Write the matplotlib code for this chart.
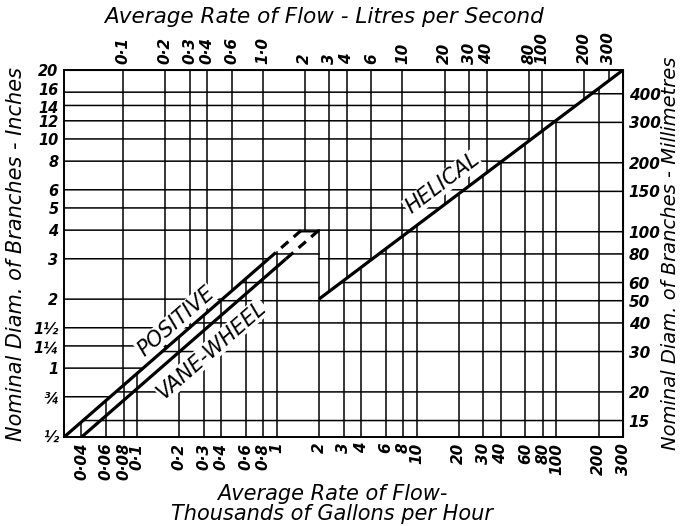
import numpy as np
import matplotlib.pyplot as plt
from matplotlib.ticker import NullLocator
from matplotlib.transforms import ScaledTranslation

plt.rcParams['font.family'] = ['DejaVu Sans']
plt.rcParams['font.style'] = 'italic'

# flow scale: thousands of gallons per hour (bottom), litres per second (top)
flow_ticks = [0.04, 0.06, 0.08, 0.1, 0.2, 0.3, 0.4, 0.6, 0.8, 1, 2, 3, 4, 6, 8, 10,
              20, 30, 40, 60, 80, 100, 200, 300]
flow_labels = ['0·04', '0·06', '0·08', '0·1', '0·2', '0·3', '0·4', '0·6', '0·8', '1',
               '2', '3', '4', '6', '8', '10', '20', '30', '40', '60', '80', '100', '200', '300']
lps_ticks = [0.1, 0.2, 0.3, 0.4, 0.6, 1.0, 2, 3, 4, 6, 10, 20, 30, 40, 80, 100, 200, 300]
lps_labels = ['0·1', '0·2', '0·3', '0·4', '0·6', '1·0', '2', '3', '4', '6', '10',
              '20', '30', '40', '80', '100', '200', '300']

# branch sizes: inches (left), millimetres (right)
inch_ticks = [0.5, 0.75, 1, 1.25, 1.5, 2, 3, 4, 5, 6, 8, 10, 12, 14, 16, 20]
inch_labels = ['½', '¾', '1', '1¼', '1½', '2', '3', '4', '5', '6', '8', '10', '12', '14', '16', '20']
mm_ticks = [15, 20, 30, 40, 50, 60, 80, 100, 150, 200, 300, 400]

# meter types: flow (1000 gal/h) against branch size (in)
positive_flow = [0.03, 1.5]
positive_diam = [0.5, 4]
vane_flow = [0.04, 2]
vane_diam = [0.5, 4]
helical_flow = [2, 300]
helical_diam = [2, 20]
dashed_above = 3   # sizes above this are dashed

LPS_PER_KGPH = 4.54609 / 3.6
MM_PER_IN = 25.4
xmin, xmax = 0.03, 300
ymin, ymax = 0.5, 20


def loginterp(x, xp, fp):
    return 10 ** np.interp(np.log10(x), np.log10(xp), np.log10(fp))


def boundary(x):
    # edge between the upper-left and lower-right parts of the grid
    x = np.asarray(x, dtype=float)
    return np.where(x <= 2, loginterp(x, positive_flow, positive_diam),
                    loginterp(x, helical_flow, helical_diam))


fig = plt.figure(figsize=(6.81, 5.26), dpi=100)
ax = fig.add_axes([0.094, 0.169, 0.821, 0.698])
ax.set_xscale('log')
ax.set_yscale('log')
ax.set_xlim(xmin, xmax)
ax.set_ylim(ymin, ymax)

grid = dict(color='black', lw=1.1, zorder=1)
xs = np.logspace(np.log10(xmin), np.log10(xmax), 3000)
yb = boundary(xs)

# vertical rulings: bottom scale below the edge, top scale above it
for f in flow_ticks:
    ax.plot([f, f], [ymin, float(boundary(f))], **grid)
for q in lps_ticks:
    f = q / LPS_PER_KGPH
    ax.plot([f, f], [float(boundary(f)), ymax], **grid)

# horizontal rulings: inches left of the edge, millimetres right of it
for d in inch_ticks:
    ax.plot(xs, np.where(d >= yb - 1e-9, d, np.nan), **grid)
for m in mm_ticks:
    d = m / MM_PER_IN
    ax.plot(xs, np.where(d < yb, d, np.nan), **grid)

# meter curves
curve = dict(color='black', lw=2.3, zorder=3, solid_capstyle='butt')
for flows, diams in [(positive_flow, positive_diam), (vane_flow, vane_diam)]:
    f3 = loginterp(dashed_above, diams, flows)
    ax.plot([flows[0], f3], [diams[0], dashed_above], **curve)
    ax.plot([f3, flows[1]], [dashed_above, diams[1]], ls=(0, (3, 2.2)), **curve)
ax.plot(helical_flow, helical_diam, **curve)


def angle_of(flows, diams):
    p = ax.transData.transform(np.column_stack([flows, diams]))
    return np.degrees(np.arctan2(p[1, 1] - p[0, 1], p[1, 0] - p[0, 0]))


lab = dict(ha='center', va='center', fontsize=15, rotation_mode='anchor', zorder=4,
           bbox=dict(fc='white', ec='none', pad=0.5))
ax.text(0.19, 1.6, 'POSITIVE', rotation=angle_of(positive_flow, positive_diam), **lab)
ax.text(0.34, 1.2, 'VANE-WHEEL', rotation=angle_of(vane_flow, vane_diam), **lab)
ax.text(15.3, 6.4, 'HELICAL', rotation=angle_of(helical_flow, helical_diam), **lab)

for s in ax.spines.values():
    s.set_linewidth(1.4)

tick_font = dict(fontsize=11, fontweight='bold')
ax.set_xticks(flow_ticks)
ax.set_xticklabels(flow_labels, rotation=90, **tick_font)
ax.set_yticks(inch_ticks)
ax.set_yticklabels(inch_labels, fontsize=10.5, fontweight='bold')
ax.xaxis.set_minor_locator(NullLocator())
ax.yaxis.set_minor_locator(NullLocator())
ax.tick_params(length=0, pad=4)

top = ax.secondary_xaxis('top', functions=(lambda x: x * LPS_PER_KGPH, lambda x: x / LPS_PER_KGPH))
top.set_xticks(lps_ticks)
top.set_xticklabels(lps_labels, rotation=90, **tick_font)
top.xaxis.set_minor_locator(NullLocator())
top.tick_params(length=0, pad=4)

right = ax.secondary_yaxis('right', functions=(lambda y: y * MM_PER_IN, lambda y: y / MM_PER_IN))
right.set_yticks(mm_ticks)
right.set_yticklabels([str(m) for m in mm_ticks], **tick_font)
right.yaxis.set_minor_locator(NullLocator())
right.tick_params(length=0, pad=4)

# 16 and 14 sit close together, spread them a little
nudge = {16: 2.5, 14: -0.8}
for tick in ax.yaxis.get_major_ticks():
    if tick.get_loc() in nudge:
        off = ScaledTranslation(0, nudge[tick.get_loc()] / 72, fig.dpi_scale_trans)
        tick.label1.set_transform(tick.label1.get_transform() + off)

ax.set_xlabel('Average Rate of Flow-\nThousands of Gallons per Hour', fontsize=15,
              labelpad=3, linespacing=0.95, x=0.48)
top.set_xlabel('Average Rate of Flow - Litres per Second', fontsize=15.5, labelpad=7, x=0.465)
ax.set_ylabel('Nominal Diam. of Branches - Inches', fontsize=15, labelpad=5)
right.set_ylabel('Nominal Diam. of Branches - Millimetres', fontsize=14, labelpad=0)

fig.savefig('out.png', dpi=100, facecolor='white')
